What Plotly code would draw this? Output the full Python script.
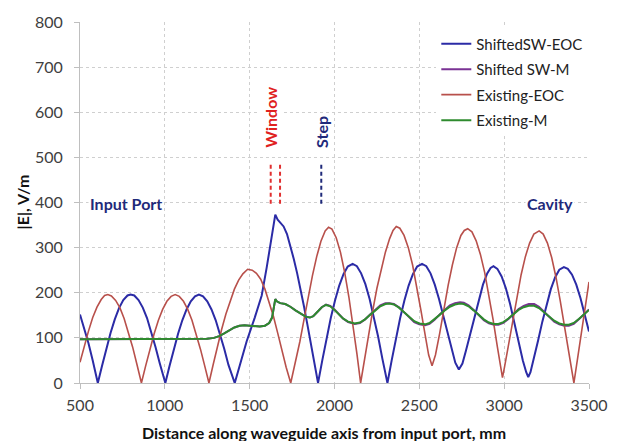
import plotly.graph_objects as go

# ---------------- data ----------------
blue_x = [500, 525, 550, 575, 605, 630, 655, 680, 705, 730, 755, 780, 798, 820, 845, 870, 895, 920, 945, 970, 1003,
          1028, 1053, 1078, 1103, 1128, 1153, 1178, 1201, 1225, 1250, 1275, 1300, 1325, 1350, 1375, 1412,
          1450, 1482, 1530, 1571, 1600, 1620, 1640, 1651, 1665, 1680, 1700, 1720, 1740, 1760, 1780, 1800, 1820,
          1840, 1860, 1880, 1903, 1928, 1953, 1978, 2003, 2028, 2053, 2078, 2107, 2132, 2157, 2182, 2207, 2232,
          2257, 2282, 2312, 2337, 2362, 2387, 2412, 2437, 2462, 2487, 2516, 2541, 2566, 2591, 2616, 2641, 2666,
          2691, 2712, 2733, 2754, 2775, 2800, 2825, 2850, 2875, 2900, 2920, 2937, 2960, 2985, 3010, 3035, 3060,
          3085, 3110, 3130, 3142, 3155, 3175, 3200, 3225, 3250, 3275, 3300, 3325, 3352, 3375, 3400, 3425, 3450,
          3475, 3500]
blue_y = [152, 122, 88, 50, 0, 38, 76, 111, 141, 166, 184, 194, 196, 194, 184, 167, 144, 114, 80, 44, 0,
          38, 75, 109, 139, 163, 181, 192, 196, 192, 181, 163, 139, 109, 76, 40, 0,
          50, 92, 145, 194, 255, 298, 345, 373, 362, 356, 347, 330, 305, 275, 243, 208, 170,
          130, 88, 45, 0, 50, 99, 144, 183, 216, 241, 258, 264, 259, 243, 219, 186, 147,
          103, 54, 0, 50, 99, 144, 183, 216, 241, 258, 264, 259, 243, 218, 186, 148, 108,
          72, 45, 30, 43, 72, 108, 148, 186, 218, 243, 255, 259, 253, 236, 210, 175, 134,
          90, 50, 24, 13, 24, 54, 94, 136, 175, 208, 234, 251, 257, 253, 240, 218, 188,
          152, 114]

red_x = [500, 525, 550, 575, 600, 625, 645, 664, 685, 710, 735, 760, 785, 810, 835, 862,
         887, 912, 937, 962, 987, 1012, 1037, 1061, 1085, 1110, 1135, 1160, 1185, 1210, 1235, 1260,
         1285, 1310, 1335, 1360, 1385, 1410, 1435, 1460, 1488, 1515, 1540, 1565, 1590, 1615, 1640, 1665,
         1690, 1715, 1742, 1765, 1796, 1820, 1845, 1870, 1895, 1920, 1945, 1965, 1985, 2010, 2035, 2060,
         2085, 2110, 2132, 2154, 2175, 2200, 2225, 2250, 2275, 2300, 2325, 2345, 2364, 2385, 2410, 2435,
         2460, 2485, 2510, 2535, 2555, 2575, 2595, 2620, 2645, 2670, 2695, 2720, 2745, 2765, 2785, 2810,
         2835, 2860, 2885, 2910, 2935, 2960, 2980, 2990, 3002, 3025, 3050, 3075, 3100, 3125, 3150, 3175,
         3206, 3230, 3255, 3280, 3305, 3330, 3355, 3380, 3411, 3435, 3460, 3480, 3500]
red_y = [46, 83, 115, 145, 168, 185, 194, 196, 193, 183, 167, 143, 114, 80, 42, 0,
         38, 75, 109, 139, 163, 181, 192, 196, 192, 181, 163, 139, 109, 75, 38, 0,
         41, 81, 119, 153, 183, 208, 228, 242, 252, 250, 243, 230, 208, 180, 148, 111,
         72, 35, 0, 38, 92, 140, 190, 238, 280, 314, 337, 345, 341, 322, 290, 245,
         190, 128, 65, 0, 50, 107, 160, 210, 253, 290, 320, 338, 347, 343, 327, 300,
         262, 215, 160, 105, 62, 38, 62, 110, 165, 217, 262, 300, 327, 338, 342, 335,
         315, 285, 245, 195, 140, 80, 35, 12, 35, 85, 140, 192, 240, 280, 310, 330,
         337, 330, 310, 278, 235, 183, 125, 62, 0, 60, 120, 175, 224]

m_x = [500, 600, 700, 800, 900, 1000, 1100, 1200, 1250, 1290, 1320, 1350, 1380, 1410, 1440, 1470, 1500,
       1530, 1560, 1590, 1615, 1632, 1645, 1651, 1660, 1680, 1710, 1740, 1770, 1800, 1830, 1855, 1875,
       1900, 1925, 1950, 1975, 2000, 2025, 2050, 2080, 2119, 2150, 2180, 2210, 2240, 2270, 2300, 2323,
       2350, 2380, 2410, 2440, 2470, 2500, 2534, 2560, 2590, 2620, 2650, 2680, 2710, 2740, 2762, 2790,
       2820, 2850, 2880, 2910, 2940, 2966, 2995, 3025, 3055, 3085, 3115, 3145, 3177, 3205, 3235, 3265,
       3295, 3325, 3355, 3381, 3410, 3440, 3470, 3500]
green_y = [97, 97, 97, 97, 97, 97, 97, 97, 98, 100, 104, 110, 117, 123, 127, 128, 127,
           126, 125, 127, 133, 145, 175, 186, 181, 177, 175, 169, 161, 153, 147, 145, 148,
           158, 168, 173, 170, 162, 152, 143, 136, 132, 134, 141, 151, 161, 170, 175, 176,
           174, 167, 157, 146, 137, 132, 130, 133, 141, 151, 161, 169, 174, 176, 175, 170,
           161, 151, 141, 134, 131, 131, 135, 143, 153, 162, 168, 171, 171, 166, 157, 147,
           138, 132, 129, 129, 133, 142, 152, 162]
purple_y = [97, 97, 97, 97, 97, 97, 97, 97, 98, 100, 104, 110, 117, 123, 127, 128, 127,
            126, 125, 127, 133, 145, 175, 186, 181, 177, 175, 169, 161, 153, 147, 145, 148,
            158, 168, 174, 171, 163, 152, 143, 135, 131, 133, 141, 152, 163, 172, 177, 177,
            175, 168, 157, 145, 135, 130, 128, 131, 140, 152, 163, 172, 177, 179, 178, 172,
            162, 150, 139, 132, 129, 129, 133, 142, 154, 164, 171, 175, 175, 169, 158, 146,
            136, 130, 127, 127, 131, 141, 152, 163]

x_ticks = [500, 1000, 1500, 2000, 2500, 3000, 3500]
y_ticks = [0, 100, 200, 300, 400, 500, 600, 700, 800]

window_x = [1624, 1679]
step_x = [1922]
marker_y = [397, 490]

# ---------------- figure ----------------
FONT = "Lato, Carlito, Calibri, sans-serif"
BLUE = "#2B2BA6"
PURPLE = "#7A3294"
RED = "#B8504B"
GREEN = "#2E8B2E"
NAVY = "#1F2A7A"

fig = go.Figure()
fig.add_trace(go.Scatter(x=blue_x, y=blue_y, mode="lines", name="ShiftedSW-EOC",
                         line=dict(color=BLUE, width=2), legendgroup="a"))
fig.add_trace(go.Scatter(x=m_x, y=purple_y, mode="lines", name="Shifted SW-M",
                         line=dict(color=PURPLE, width=2), legendgroup="b"))
fig.add_trace(go.Scatter(x=red_x, y=red_y, mode="lines", name="Existing-EOC",
                         line=dict(color=RED, width=1.6), legendgroup="c"))
fig.add_trace(go.Scatter(x=m_x, y=green_y, mode="lines", name="Existing-M",
                         line=dict(color=GREEN, width=2), legendgroup="d"))

# dashed marker lines
for wx in window_x:
    fig.add_trace(go.Scatter(x=[wx, wx], y=marker_y, mode="lines", showlegend=False,
                             line=dict(color="#E03030", width=2, dash="4px,3px"), hoverinfo="skip"))
for sx in step_x:
    fig.add_trace(go.Scatter(x=[sx, sx], y=marker_y, mode="lines", showlegend=False,
                             line=dict(color=NAVY, width=2, dash="4px,3px"), hoverinfo="skip"))

ann = [
    dict(x=772, y=397, text="<b>Input Port</b>", showarrow=False,
         font=dict(family=FONT, size=16, color=NAVY), bgcolor="white"),
    dict(x=3270, y=397, text="<b>Cavity</b>", showarrow=False,
         font=dict(family=FONT, size=16, color=NAVY), bgcolor="white"),
    dict(x=1626, y=588, text="<b>Window</b>", showarrow=False, textangle=-90,
         font=dict(family=FONT, size=16, color="#E02020"), bgcolor="white"),
    dict(x=1922, y=557, text="<b>Step</b>", showarrow=False, textangle=-90,
         font=dict(family=FONT, size=16, color=NAVY), bgcolor="white"),
    dict(xref="paper", yref="paper", x=0.48, y=0, yshift=-49, yanchor="middle",
         text="<b>Distance along waveguide axis from input port, mm</b>", showarrow=False,
         font=dict(family=FONT, size=16, color="#111111")),
    dict(xref="paper", yref="paper", x=0, y=0.5, xshift=-58, xanchor="center", textangle=-90,
         text="<b>|E|, V/m</b>", showarrow=False,
         font=dict(family=FONT, size=16, color="#111111")),
]

fig.update_layout(
    width=620, height=441,
    margin=dict(l=80, r=27, t=15, b=58),
    paper_bgcolor="white", plot_bgcolor="white",
    font=dict(family=FONT, size=15, color="#404040"),
    showlegend=True,
    legend=dict(x=0.70, y=0.985, xanchor="left", yanchor="top", bgcolor="white",
                font=dict(family=FONT, size=15, color="#222222"), tracegroupgap=3,
                itemwidth=30),
    annotations=ann,
)
fig.update_xaxes(range=[500, 3500], tickvals=x_ticks, ticktext=[str(v) for v in x_ticks],
                 showgrid=True, gridcolor="#CFCFCF", griddash="dot", gridwidth=1,
                 showline=True, linecolor="#BFBFBF", linewidth=1,
                 ticks="outside", ticklen=5, tickcolor="#BFBFBF", zeroline=False,
                 tickfont=dict(family=FONT, size=16, color="#404040"), ticklabelstandoff=3)
fig.update_yaxes(range=[0, 800], tickvals=y_ticks, ticktext=[str(v) for v in y_ticks],
                 showgrid=True, gridcolor="#CFCFCF", griddash="dot", gridwidth=1,
                 showline=True, linecolor="#BFBFBF", linewidth=1,
                 ticks="outside", ticklen=5, tickcolor="#BFBFBF", zeroline=False,
                 tickfont=dict(family=FONT, size=16, color="#404040"), ticklabelstandoff=8)

fig.write_html("out.html")
